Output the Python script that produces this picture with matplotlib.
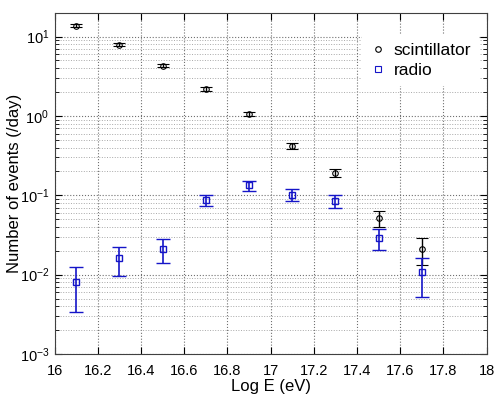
import matplotlib
matplotlib.use("Agg")
import matplotlib.pyplot as plt
from matplotlib.lines import Line2D
from matplotlib.ticker import LogLocator, MultipleLocator, NullFormatter

plt.rcParams['font.family'] = ['Liberation Sans', 'DejaVu Sans']

log_e = [16.1, 16.3, 16.5, 16.7, 16.9, 17.1, 17.3, 17.5, 17.7]
scint = [13.7, 7.9, 4.3, 2.2, 1.05, 0.42, 0.19, 0.052, 0.021]
scint_err = [0.6, 0.35, 0.22, 0.12, 0.06, 0.04, 0.022, 0.012, 0.0077]
radio = [0.008, 0.016, 0.021, 0.088, 0.133, 0.102, 0.085, 0.029, 0.0107]
radio_err = [0.0046, 0.0065, 0.007, 0.014, 0.02, 0.017, 0.015, 0.0085, 0.0055]

blue = '#1515c8'

fig = plt.figure(figsize=(4.95, 3.97), dpi=100)
ax = fig.add_axes([0.1105, 0.1083, 0.8727, 0.8597])

ax.errorbar(log_e, scint, yerr=scint_err, fmt='o', color='black', mfc='none',
            ms=4, mew=0.8, elinewidth=1, capsize=4, capthick=1)
ax.errorbar(log_e, radio, yerr=radio_err, fmt='s', color=blue, mfc='none',
            ms=5, mew=1, elinewidth=1.2, capsize=5, capthick=1.2)

ax.set_yscale('log')
ax.set_xlim(16, 18)
ax.set_ylim(1e-3, 20)
ax.xaxis.set_major_locator(MultipleLocator(0.2))
ax.xaxis.set_major_formatter(plt.FuncFormatter(lambda v, p: ('%g' % round(v, 1))))
ax.yaxis.set_major_locator(LogLocator(base=10, numticks=10))
ax.yaxis.set_minor_locator(LogLocator(base=10, subs=range(2, 10), numticks=20))
ax.yaxis.set_minor_formatter(NullFormatter())

ax.grid(True, which='major', linestyle=':', color='#707070', linewidth=0.8)
ax.grid(True, which='minor', axis='y', linestyle=':', color='#a8a8a8', linewidth=0.7)
ax.tick_params(which='both', direction='in', top=True, right=True, labelsize=10.5)
ax.tick_params(which='major', length=5)
ax.tick_params(which='minor', length=3)
ax.tick_params(axis='x', pad=7)
ax.tick_params(axis='y', pad=4)
for s in ax.spines.values():
    s.set_color('#404040')

ax.set_xlabel('Log E (eV)', fontsize=12, labelpad=1)
ax.set_ylabel('Number of events (/day)', fontsize=12)
ax.yaxis.set_label_coords(-0.075, 0.5)

handles = [Line2D([], [], marker='o', ls='none', color='black', mfc='none', ms=4, mew=0.8),
           Line2D([], [], marker='s', ls='none', color=blue, mfc='none', ms=4, mew=0.8)]
leg = ax.legend(handles, ['scintillator', 'radio'], loc='upper right', fontsize=12.5,
                bbox_to_anchor=(1.016, 0.979),
                frameon=True, fancybox=False, edgecolor='white', framealpha=1,
                handlelength=1.0, handletextpad=0.4, labelspacing=0.3,
                borderaxespad=0.9)

fig.savefig('out.png', dpi=100)
